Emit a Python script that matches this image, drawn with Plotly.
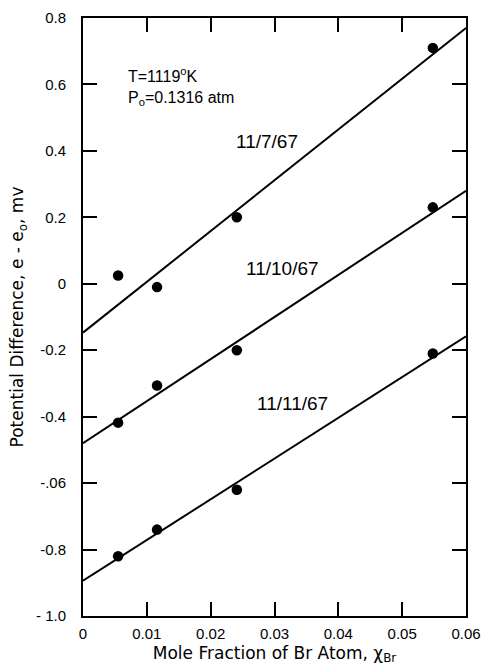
import plotly.graph_objects as go

# Data
x_pts = [0.0055, 0.0116, 0.0241, 0.0548]
run_labels = ["11/7/67", "11/10/67", "11/11/67"]
y_run1 = [0.025, -0.01, 0.20, 0.71]
y_run2 = [-0.418, -0.306, -0.20, 0.23]
y_run3 = [-0.82, -0.74, -0.62, -0.21]
fit_x = [0.0, 0.06]
fit_run1 = [-0.147, 0.77]
fit_run2 = [-0.48, 0.28]
fit_run3 = [-0.894, -0.158]

x_tickvals = [0, 0.01, 0.02, 0.03, 0.04, 0.05, 0.06]
x_ticktext = ["0", "0.01", "0.02", "0.03", "0.04", "0.05", "0.06"]
y_tickvals = [0.8, 0.6, 0.4, 0.2, 0, -0.2, -0.4, -0.6, -0.8, -1.0]
y_ticktext = ["0.8", "0.6", "0.4", "0.2", "0", "-0.2", "-0.4", "-.06", "-0.8", "- 1.0"]

FONT = "Liberation Sans"
TFONT = "DejaVu Sans"
fig = go.Figure()
for fy in [fit_run1, fit_run2, fit_run3]:
    fig.add_trace(go.Scatter(x=fit_x, y=fy, mode="lines",
                             line=dict(color="black", width=2), showlegend=False,
                             hoverinfo="skip"))
for ys, name in zip([y_run1, y_run2, y_run3], run_labels):
    fig.add_trace(go.Scatter(x=x_pts, y=ys, mode="markers", name=name,
                             marker=dict(color="black", size=10.5), showlegend=False))

ann_font = dict(family=FONT, size=16, color="black")
fig.add_annotation(x=0.0068, y=0.627, text="T=1119<sup>o</sup>K", showarrow=False,
                   xanchor="left", font=ann_font)
fig.add_annotation(x=0.0068, y=0.557, text="P<sub>o</sub>=0.1316 atm", showarrow=False,
                   xanchor="left", font=ann_font)
run_font = dict(family=FONT, size=19, color="black")
fig.add_annotation(x=0.0289, y=0.427, text=run_labels[0], showarrow=False, font=run_font)
fig.add_annotation(x=0.0312, y=0.047, text=run_labels[1], showarrow=False, font=run_font)
fig.add_annotation(x=0.0328, y=-0.36, text=run_labels[2], showarrow=False, font=run_font)

axis_common = dict(showgrid=False, zeroline=False, showline=True, linecolor="black",
                   linewidth=2, mirror="allticks", ticks="inside", ticklen=14,
                   tickwidth=1.5, tickcolor="black", automargin=False,
                   tickfont=dict(family=FONT, size=15, color="black"))
fig.update_xaxes(range=[0, 0.06], tickvals=x_tickvals, ticktext=x_ticktext,
                 title=dict(text="Mole Fraction of Br Atom, χ<sub>Br</sub>",
                            font=dict(family=TFONT, size=17, color="black"), standoff=6),
                 ticklabelstandoff=3, **axis_common)
fig.update_yaxes(range=[-1.0, 0.8], tickvals=y_tickvals, ticktext=y_ticktext,
                 title=dict(text="Potential Difference, e - e<sub>o</sub>, mv",
                            font=dict(family=TFONT, size=17, color="black"), standoff=8),
                 ticklabelstandoff=12, **axis_common)
fig.update_layout(width=485, height=671, plot_bgcolor="white", paper_bgcolor="white",
                  margin=dict(l=83, r=19, t=18, b=55))
fig.write_html("out.html")
